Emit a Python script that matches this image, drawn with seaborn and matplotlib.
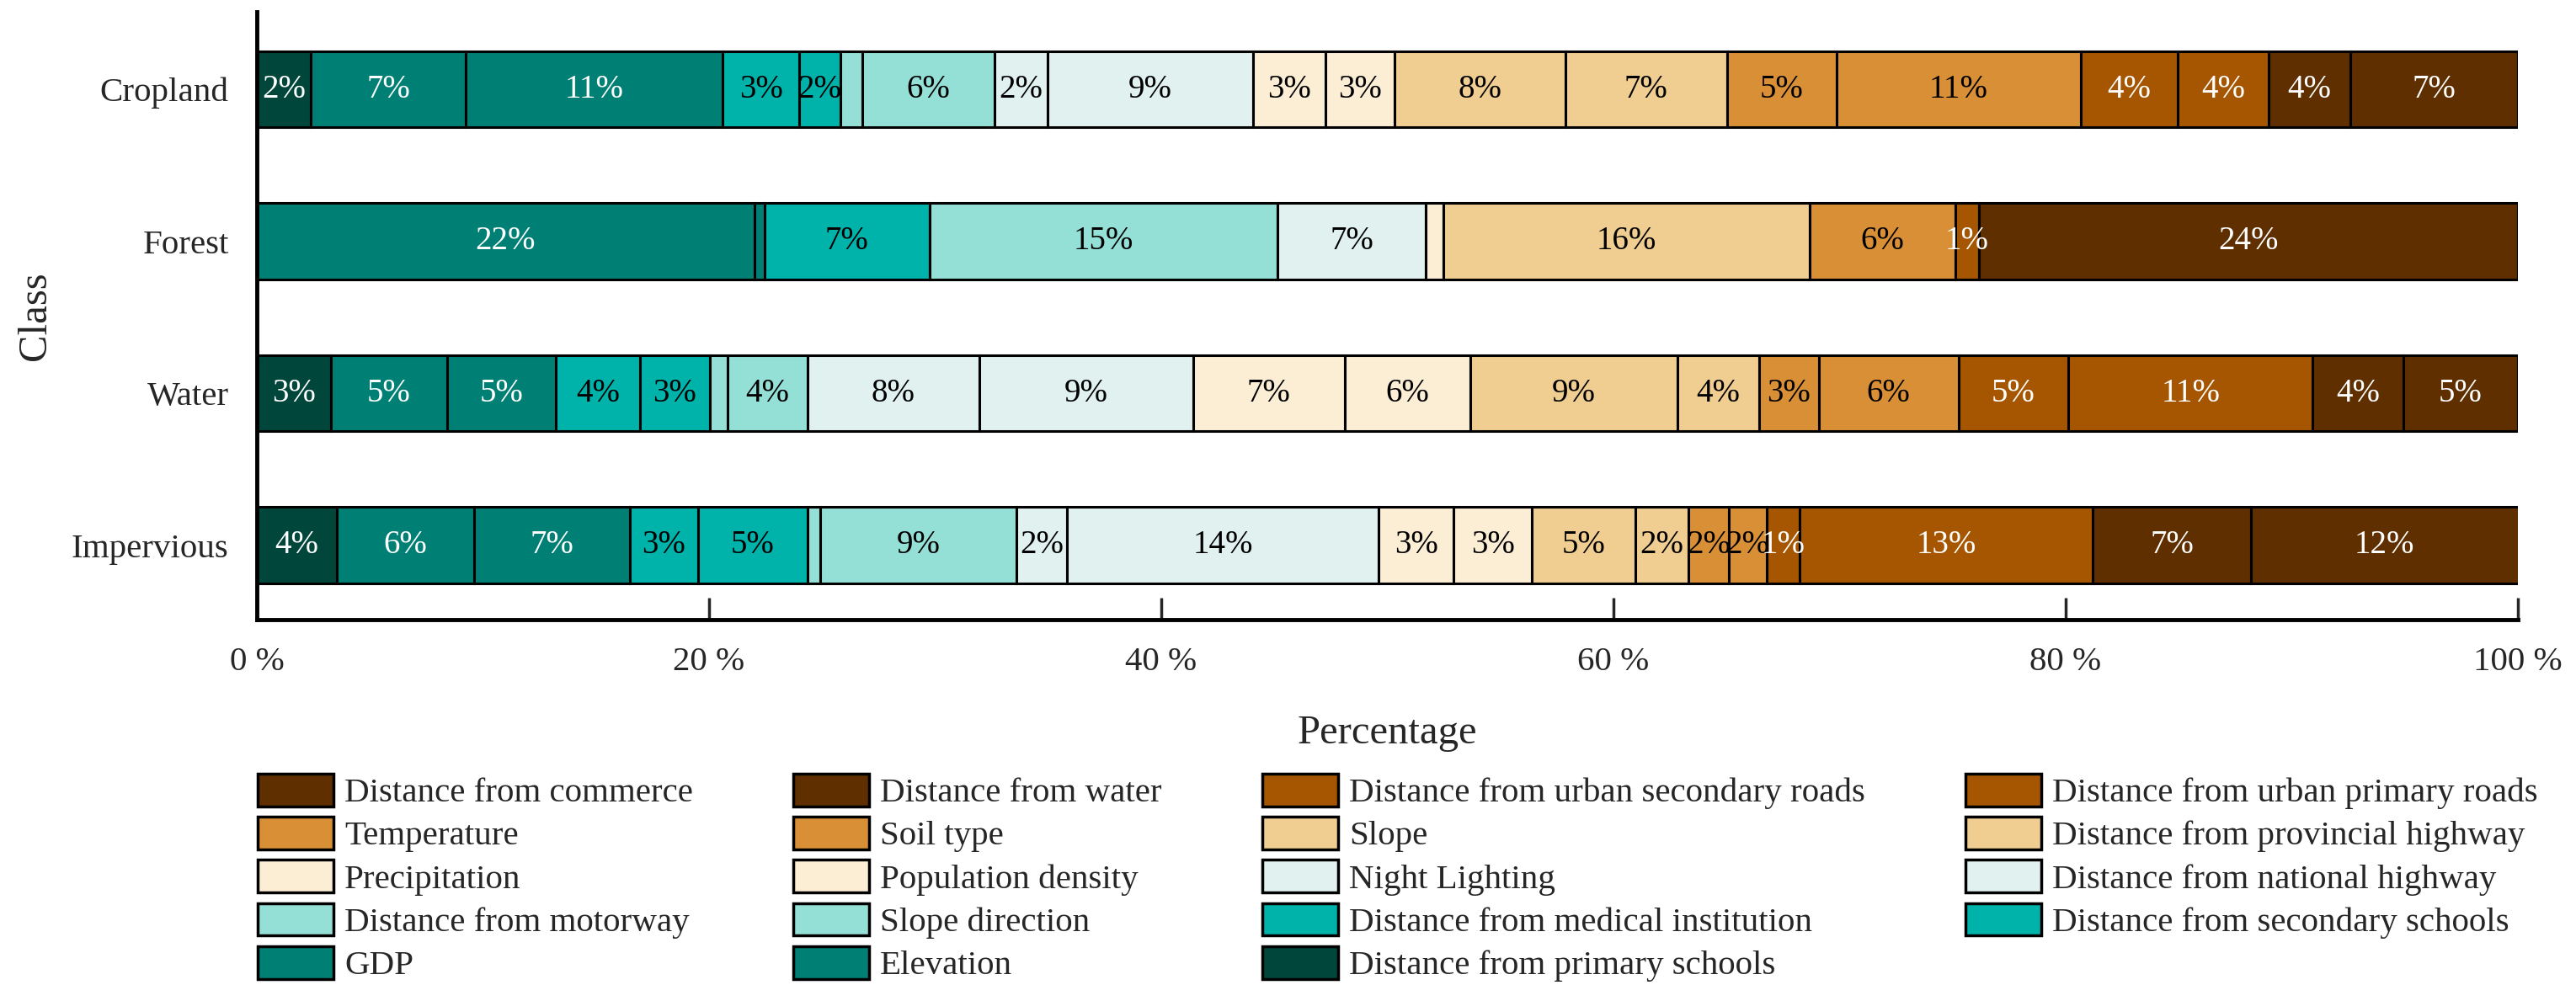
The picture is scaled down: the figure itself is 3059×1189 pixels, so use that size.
import numpy as np
import pandas as pd
import matplotlib
matplotlib.use("Agg")
import matplotlib.pyplot as plt
from matplotlib.patches import Patch
import seaborn as sns

# ---------------- data ----------------
classes = ["Cropland", "Forest", "Water", "Impervious"]

factors = [
    "Distance from primary schools", "Elevation", "GDP",
    "Distance from secondary schools", "Distance from medical institution",
    "Slope direction", "Distance from motorway",
    "Distance from national highway", "Night Lighting",
    "Population density", "Precipitation",
    "Distance from provincial highway", "Slope",
    "Soil type", "Temperature",
    "Distance from urban primary roads", "Distance from urban secondary roads",
    "Distance from water", "Distance from commerce",
]

cropland = [2.4, 6.85, 11.35, 3.4, 1.8, 0.97, 5.85, 2.35, 9.1, 3.2, 3.05,
            7.55, 7.15, 4.85, 10.8, 4.3, 4.0, 3.6, 7.43]
forest = [0.0, 22.0, 0.45, 7.3, 0.0, 15.4, 0.0, 6.55, 0.0, 0.76, 0.0,
          16.2, 0.0, 6.45, 0.0, 1.04, 0.0, 23.85, 0.0]
water = [3.26, 5.15, 4.83, 3.69, 3.12, 0.77, 3.52, 7.61, 9.45, 6.72, 5.56,
         9.15, 3.62, 2.63, 6.18, 4.86, 10.8, 4.0, 5.08]
impervious = [3.55, 6.05, 6.9, 3.0, 4.86, 0.54, 8.71, 2.23, 13.78, 3.32, 3.46,
              4.55, 2.37, 1.79, 1.66, 1.47, 12.97, 6.98, 11.83]

x_ticks = [0, 20, 40, 60, 80, 100]
x_ticklabels = ["0 %", "20 %", "40 %", "60 %", "80 %", "100 %"]

# ---------------- style ----------------
colors = ["#00463b", "#007f75", "#007f75", "#00b3aa", "#00b3aa",
          "#94e0d7", "#94e0d7", "#e1f1ef", "#e1f1ef", "#fcedd5", "#fcedd5",
          "#f0cd90", "#f0cd90", "#d98f35", "#d98f35", "#a65600", "#a65600",
          "#5f2f00", "#5f2f00"]
white_text = {0, 1, 2, 15, 16, 17, 18}

sns.set_style("ticks")
plt.rcParams["font.family"] = ["Liberation Serif", "DejaVu Serif"]

W, H = 3059, 1189
fig = plt.figure(figsize=(W / 100, H / 100), dpi=100)
ax = fig.add_axes([305 / W, 1 - 736 / H, (2990 - 305) / W, (736 - 14) / H])

values = np.array([cropland, forest, water, impervious])  # (class, factor)
lefts = np.hstack([np.zeros((4, 1)), np.cumsum(values, axis=1)[:, :-1]])

for j, fac in enumerate(factors):
    df = pd.DataFrame({"Class": classes, "Value": values[:, j]})
    sns.barplot(data=df, x="Value", y="Class", order=classes, orient="h",
                color=colors[j], saturation=1, edgecolor="black",
                linewidth=2.2, width=0.5, errorbar=None, left=lefts[:, j],
                ax=ax)
    cont = ax.containers[-1]
    labs = [f"{v:.0f}%" if v >= 1 else "" for v in values[:, j]]
    ax.bar_label(cont, labels=labs, label_type="center", fontsize=28,
                 color="white" if j in white_text else "black")

ax.set_xlim(0, 100)
ax.set_ylim(3.49, -0.51)
ax.set_xticks(x_ticks)
ax.set_xticklabels(x_ticklabels)
ax.tick_params(axis="x", direction="in", length=19, width=2.5, pad=23,
               labelsize=29.5)
ax.tick_params(axis="y", length=0, pad=24, labelsize=29.5)
for s in ["top", "right"]:
    ax.spines[s].set_visible(False)
for s in ["left", "bottom"]:
    ax.spines[s].set_linewidth(3.5)
    ax.spines[s].set_color("black")

ax.set_xlabel("Percentage", fontsize=35, va="center")
ax.xaxis.set_label_coords(0.5, (736 - 871) / 722)
ax.set_ylabel("Class", fontsize=35, va="center")
ax.yaxis.set_label_coords((42 - 305) / 2685, 0.5)

# legend: row-wise order as in the reference (reverse stacking order)
legend_order = list(range(len(factors)))[::-1]
ncol = 4
handles_rowwise = [Patch(facecolor=colors[k], edgecolor="black", linewidth=2.5,
                         label=factors[k]) for k in legend_order]
handles = []
for c in range(ncol):
    handles += handles_rowwise[c::ncol]
leg = ax.legend(handles=handles, ncol=ncol, loc="upper left",
                bbox_to_anchor=(306 / W, 1 - 919 / H),
                bbox_transform=fig.transFigure, frameon=False,
                fontsize=29.5, handlelength=2.2, handleheight=1.07,
                handletextpad=0.32, columnspacing=2.9, labelspacing=0.22,
                borderpad=0, borderaxespad=0)

fig.savefig("out.png", dpi=100)
